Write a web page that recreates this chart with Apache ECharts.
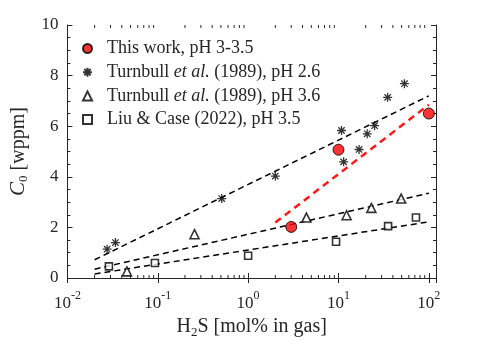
<!DOCTYPE html>
<html>
<head>
<meta charset="utf-8">
<script src="https://cdn.jsdelivr.net/npm/echarts@6/dist/echarts.min.js"></script>
<style>
  html, body { margin: 0; padding: 0; background: #fff; }
  #chart { width: 482px; height: 344px; }
</style>
</head>
<body>
<div id="chart"></div>
<script>
const serif = 'Liberation Serif'
const ink = '#262626'

// This work, pH 3-3.5  [H2S mol%, C0 wppm]
const thisWork = [[3, 2.02], [10, 5.07], [100, 6.5]]
// Turnbull et al. (1989), pH 2.6
const turnbull26 = [
  [0.0275, 1.14], [0.034, 1.40], [0.51, 3.14], [2.0, 4.03],
  [10.8, 5.83], [11.4, 4.59], [16.9, 5.08], [20.8, 5.70],
  [25.1, 6.02], [35, 7.14], [53.7, 7.68]
]
// Turnbull et al. (1989), pH 3.6
const turnbull36 = [[0.0456, 0.26], [0.255, 1.73], [4.42, 2.39], [12.3, 2.48], [23.1, 2.77], [49.4, 3.14]]
// Liu & Case (2022), pH 3.5
const liuCase = [[0.0288, 0.46], [0.093, 0.59], [1.0, 0.88], [9.4, 1.43], [35.4, 2.05], [72, 2.39]]

// fitted trend lines (end points)
const fit26 = [[0.02, 0.72], [100, 7.2]]
const fit36 = [[0.02, 0.35], [100, 3.35]]
const fitLiu = [[0.02, 0.16], [100, 2.22]]
const fitThis = [[2, 2.19], [100, 6.85]]

const xMin = 0.01
const xMax = 120
const yTicks = [0, 2, 4, 6, 8, 10]

// log minor ticks 2..9 per decade
const xMinorTicks = []
for (let e = -2; e <= 1; e++) {
  for (let k = 2; k <= 9; k++) xMinorTicks.push(k * Math.pow(10, e))
}

const legendNames = [
  'This work, pH 3-3.5',
  'Turnbull et al. (1989), pH 2.6',
  'Turnbull et al. (1989), pH 3.6',
  'Liu & Case (2022), pH 3.5'
]

const starPath = 'path://M5 0L5 10M0 5L10 5M1.46 1.46L8.54 8.54M8.54 1.46L1.46 8.54'

function fitLine(data, color, width, dash) {
  return {
    type: 'line',
    data: data,
    symbol: 'none',
    silent: true,
    z: 1,
    lineStyle: { color: color, width: width, type: dash }
  }
}

const chart = echarts.init(document.getElementById('chart'))
chart.setOption({
  animation: false,
  backgroundColor: '#fff',
  grid: { left: 63, right: 46, top: 25, bottom: 65 },
  legend: {
    orient: 'vertical',
    left: 77,
    top: 33,
    itemWidth: 9,
    itemHeight: 9,
    itemGap: 2.7,
    data: legendNames,
    formatter: function (name) {
      return '{g|}' + name.replace('et al.', '{i|et al.}')
    },
    textStyle: {
      fontFamily: serif,
      fontSize: 18,
      color: ink,
      lineHeight: 21,
      rich: {
        g: { width: 10 },
        i: { fontFamily: serif, fontSize: 18, fontStyle: 'italic', color: ink, lineHeight: 21 }
      }
    }
  },
  xAxis: [{
    type: 'log',
    logBase: 10,
    min: xMin,
    max: xMax,
    name: '{n|H}{s|2}{n|S [mol% in gas]}',
    nameLocation: 'middle',
    nameGap: 37,
    nameTextStyle: {
      rich: {
        n: { fontFamily: serif, fontSize: 20, color: ink, lineHeight: 24 },
        s: { fontFamily: serif, fontSize: 13, color: ink, lineHeight: 24, verticalAlign: 'bottom', padding: [6, 0, 0, 0] }
      }
    },
    axisLine: { show: true, lineStyle: { color: ink, width: 1 } },
    axisTick: { show: true, inside: true, length: 5, lineStyle: { color: ink } },
    minorTick: { show: false },
    splitLine: { show: false },
    axisLabel: {
      margin: 12,
      showMaxLabel: false,
      formatter: function (v) {
        const e = Math.log10(v)
        if (Math.abs(e - Math.round(e)) > 1e-6) return ''
        return '{b|10}{s|' + Math.round(e) + '}'
      },
      rich: {
        b: { fontFamily: serif, fontSize: 17, color: ink, lineHeight: 22, verticalAlign: 'bottom' },
        s: { fontFamily: serif, fontSize: 12, color: ink, lineHeight: 22, verticalAlign: 'top' }
      }
    }
  }, {
    type: 'log',
    logBase: 10,
    min: xMin,
    max: xMax,
    position: 'top',
    axisLine: { show: true, lineStyle: { color: ink, width: 1 } },
    axisTick: { show: true, inside: true, length: 5, lineStyle: { color: ink } },
    axisLabel: { show: false },
    splitLine: { show: false }
  }],
  yAxis: [{
    type: 'value',
    min: 0,
    max: 10,
    interval: 2,
    name: '{i|C}{s|0}{n| [wppm]}',
    nameLocation: 'middle',
    nameGap: 36,
    nameTextStyle: {
      rich: {
        i: { fontFamily: serif, fontSize: 21, fontStyle: 'italic', color: ink, lineHeight: 24 },
        s: { fontFamily: serif, fontSize: 13, color: ink, lineHeight: 24, verticalAlign: 'bottom', padding: [6, 0, 0, 0] },
        n: { fontFamily: serif, fontSize: 20, color: ink, lineHeight: 24 }
      }
    },
    axisLine: { show: true, lineStyle: { color: ink, width: 1 } },
    axisTick: { show: true, inside: true, length: 5, lineStyle: { color: ink } },
    minorTick: { show: true, splitNumber: 4, length: 3, lineStyle: { color: ink } },
    splitLine: { show: false },
    axisLabel: {
      margin: 9,
      fontFamily: serif,
      fontSize: 17,
      color: ink,
      formatter: function (v) { return yTicks.indexOf(v) >= 0 ? String(v) : '' }
    }
  }, {
    type: 'value',
    min: 0,
    max: 10,
    interval: 2,
    position: 'right',
    axisLine: { show: true, lineStyle: { color: ink, width: 1 } },
    axisTick: { show: true, inside: true, length: 5, lineStyle: { color: ink } },
    minorTick: { show: true, splitNumber: 4, length: 3, lineStyle: { color: ink } },
    axisLabel: { show: false },
    splitLine: { show: false }
  }],
  series: [
    {
      type: 'custom',
      silent: true,
      z: 0,
      data: xMinorTicks.map(function (v) { return [v, 0] }),
      renderItem: function (params, api) {
        const b = api.coord([api.value(0), 0])
        const t = api.coord([api.value(0), 10])
        const st = { stroke: ink, lineWidth: 1 }
        return {
          type: 'group',
          children: [
            { type: 'line', shape: { x1: b[0], y1: b[1], x2: b[0], y2: b[1] - 3 }, style: st },
            { type: 'line', shape: { x1: t[0], y1: t[1], x2: t[0], y2: t[1] + 3 }, style: st }
          ]
        }
      }
    },
    fitLine(fit26, '#000', 1.5, [6, 4]),
    fitLine(fit36, '#000', 1.5, [6, 4]),
    fitLine(fitLiu, '#000', 1.5, [6, 4]),
    fitLine(fitThis, '#ff1a1a', 2.5, [7, 5]),
    {
      name: legendNames[1],
      type: 'scatter',
      data: turnbull26,
      symbol: starPath,
      symbolSize: 9,
      z: 3,
      itemStyle: { color: '#000', borderColor: '#000', borderWidth: 1.3 }
    },
    {
      name: legendNames[2],
      type: 'scatter',
      data: turnbull36,
      symbol: 'triangle',
      symbolSize: 9,
      z: 3,
      itemStyle: { color: '#fff', borderColor: '#000', borderWidth: 1.6 }
    },
    {
      name: legendNames[3],
      type: 'scatter',
      data: liuCase,
      symbol: 'rect',
      symbolSize: 7,
      z: 3,
      itemStyle: { color: '#fff', borderColor: '#000', borderWidth: 1.6 }
    },
    {
      name: legendNames[0],
      type: 'scatter',
      data: thisWork,
      symbol: 'circle',
      symbolSize: 11,
      z: 4,
      itemStyle: { color: '#ff0000', borderColor: '#000', borderWidth: 1 }
    }
  ]
})
</script>
</body>
</html>
